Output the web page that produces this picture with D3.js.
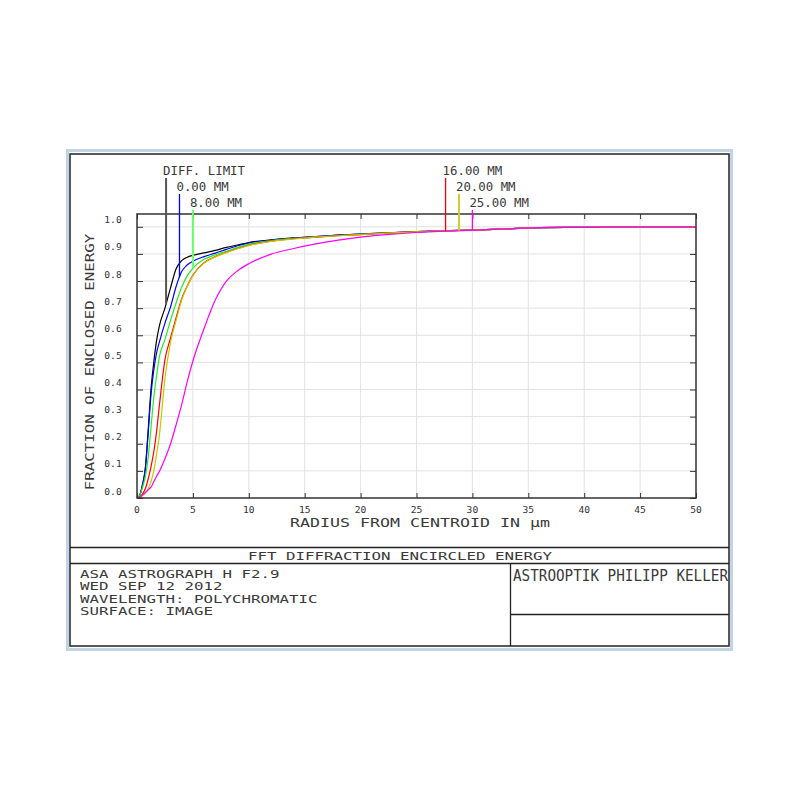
<!DOCTYPE html>
<html><head><meta charset="utf-8">
<script src="https://cdn.jsdelivr.net/npm/d3@7"></script>
<style>body{margin:0;background:#fff}</style>
</head><body><svg id="c" width="800" height="800"></svg>
<script>
// ---- data ----
const radius    = [0,0.25,0.5,0.75,1,1.25,1.5,1.75,2,2.5,3,3.5,4,4.5,5,6,7,8,9,10,12,14,16,18,20,22,25,28,30,33,36,40,45,50];
const diffLimit = [0,0.01,0.05,0.11,0.25,0.40,0.50,0.58,0.635,0.70,0.775,0.845,0.875,0.888,0.895,0.904,0.913,0.924,0.933,0.942,0.952,0.959,0.964,0.969,0.973,0.977,0.982,0.986,0.988,0.992,0.997,0.998,0.999,0.999];
const field0    = [0,0.01,0.05,0.11,0.24,0.38,0.47,0.535,0.575,0.645,0.705,0.78,0.835,0.86,0.873,0.89,0.903,0.917,0.93,0.94,0.951,0.958,0.964,0.969,0.973,0.977,0.982,0.986,0.988,0.992,0.997,0.998,0.999,0.999];
const field8    = [0,0.01,0.04,0.08,0.15,0.26,0.37,0.45,0.52,0.585,0.655,0.72,0.778,0.82,0.848,0.88,0.897,0.91,0.924,0.936,0.949,0.957,0.963,0.968,0.972,0.976,0.981,0.986,0.988,0.992,0.997,0.998,0.999,0.999];
const field16   = [0,0.003,0.015,0.035,0.07,0.115,0.17,0.245,0.34,0.51,0.59,0.665,0.735,0.782,0.822,0.868,0.89,0.906,0.92,0.932,0.947,0.956,0.962,0.967,0.971,0.976,0.981,0.986,0.988,0.992,0.997,0.998,0.999,0.999];
const field20   = [0,0.002,0.008,0.018,0.035,0.06,0.10,0.16,0.23,0.44,0.575,0.655,0.73,0.78,0.82,0.866,0.889,0.905,0.919,0.931,0.946,0.955,0.962,0.967,0.971,0.976,0.981,0.986,0.988,0.992,0.997,0.998,0.999,0.999];
const field25   = [0,0.003,0.012,0.02,0.03,0.04,0.06,0.08,0.098,0.145,0.2,0.27,0.345,0.43,0.505,0.625,0.73,0.8,0.838,0.864,0.899,0.92,0.937,0.951,0.962,0.970,0.979,0.985,0.987,0.992,0.997,0.998,0.999,0.999];

const seriesNames  = ["DIFF. LIMIT","0.00 MM","8.00 MM","16.00 MM","20.00 MM","25.00 MM"];
const seriesValues = [diffLimit, field0, field8, field16, field20, field25];
const seriesColors = ["#000000","#0000ff","#22ee22","#ff0000","#c8c800","#ff00ff"];
const legendColors = ["#555555","#0000ff","#66ff66","#ff0000","#cccc33","#ff00ff"];
const legendRadius = [2.6, 3.8, 5.0, 27.6, 28.8, 30.0];

const xTickValues = [0,5,10,15,20,25,30,35,40,45,50];
const yTickValues = [0,0.1,0.2,0.3,0.4,0.5,0.6,0.7,0.8,0.9,1.0];
const yTickLabels = ["0.0","0.1","0.2","0.3","0.4","0.5","0.6","0.7","0.8","0.9","1.0"];

const chartTitle = "FFT DIFFRACTION ENCIRCLED ENERGY";
const infoLines  = ["ASA ASTROGRAPH H F2.9","WED SEP 12 2012","WAVELENGTH: POLYCHROMATIC","SURFACE: IMAGE"];
const company    = "ASTROOPTIK PHILIPP KELLER";
const xLabel     = "RADIUS FROM CENTROID IN \u03BCm";
const yLabel     = "FRACTION OF ENCLOSED ENERGY";

// ---- layout ----
const svg = d3.select("#c");
const FONT = "DejaVu Sans Mono";
const TEXT = "#3a3a3a";
const L = 137, R = 696, B = 498, T = 214;
const x = d3.scaleLinear().domain([0,50]).range([L,R]);
const y = d3.scaleLinear().domain([0,1]).range([B,226.8]);

function txt(g, s, px, py, size, adv, anchor, fill, rot) {
  const t = g.append("text").attr("x",px).attr("y",py)
    .attr("font-family",FONT).attr("font-size",size)
    .attr("textLength", s.length*adv).attr("lengthAdjust","spacingAndGlyphs")
    .attr("text-anchor",anchor||"start").attr("fill",fill||TEXT).text(s);
  if (rot) t.attr("transform",`rotate(${rot},${px},${py})`);
  return t;
}

// screenshot window border
svg.append("rect").attr("x",67.5).attr("y",150.5).attr("width",664).attr("height",499)
  .attr("fill","none").attr("stroke","#c3d3e6").attr("stroke-width",3);
// outer frame
svg.append("rect").attr("x",70).attr("y",154).attr("width",659).attr("height",492)
  .attr("fill","#fff").attr("stroke","#222").attr("stroke-width",1.5);

// grid
const grid = svg.append("g").attr("stroke","#e2e2e2").attr("stroke-width",1);
grid.selectAll(".gx").data(xTickValues.slice(1,-1)).join("line")
  .attr("x1",d=>x(d)).attr("x2",d=>x(d)).attr("y1",T).attr("y2",B);
grid.selectAll(".gy").data(yTickValues.slice(1)).join("line")
  .attr("x1",L).attr("x2",R).attr("y1",d=>y(d)).attr("y2",d=>y(d));

// axes ticks (inside) via d3 axes
const axG = svg.append("g");
const style = g=>{g.select(".domain").remove(); g.selectAll("line").attr("stroke","#333");};
axG.append("g").attr("transform",`translate(0,${B})`)
  .call(d3.axisBottom(x).tickValues(xTickValues).tickSize(-5).tickFormat("")).call(style);
axG.append("g").attr("transform",`translate(0,${T})`)
  .call(d3.axisTop(x).tickValues(xTickValues).tickSize(-5).tickFormat("")).call(style);
axG.append("g").attr("transform",`translate(${L},0)`)
  .call(d3.axisLeft(y).tickValues(yTickValues).tickSize(-6).tickFormat("")).call(style);
axG.append("g").attr("transform",`translate(${R},0)`)
  .call(d3.axisRight(y).tickValues(yTickValues).tickSize(-6).tickFormat("")).call(style);

// tick labels
const tl = svg.append("g");
xTickValues.forEach(v=>txt(tl, String(v), x(v), 512.5, 9, 5.8, "middle", "#333"));
yTickValues.forEach((v,i)=>txt(tl, yTickLabels[i], 113, y(v)-3.5, 9, 5.8, "middle", "#333"));

// curves
const line = d3.line().x(d=>x(d[0])).y(d=>y(d[1])).curve(d3.curveMonotoneX);
seriesValues.forEach((vals,i)=>{
  svg.append("path").datum(radius.map((r,k)=>[r,vals[k]]))
    .attr("d",line).attr("fill","none").attr("stroke",seriesColors[i]).attr("stroke-width",1.2);
});

// plot box
svg.append("rect").attr("x",L).attr("y",T).attr("width",R-L).attr("height",B-T)
  .attr("fill","none").attr("stroke","#333").attr("stroke-width",1.5);

// legend labels + pointer lines to the curves
const rowBase = [175,191,207];
seriesNames.forEach((name,i)=>{
  const lx = x(legendRadius[i]);
  const interp = d3.scaleLinear().domain(radius).range(seriesValues[i]);
  const row = rowBase[i%3];
  svg.append("line").attr("x1",lx).attr("x2",lx).attr("y1",row+3).attr("y2",y(interp(legendRadius[i])))
    .attr("stroke",legendColors[i]).attr("stroke-width",(i===0||i===2||i===4)?2:1.3);
  txt(svg, name, lx-3, row, 12, 7.45, "start");
});

// axis titles
txt(svg, xLabel, 420, 527, 12, 10, "middle");
txt(svg, yLabel, 94, 362, 12, 9.5, "middle", TEXT, -90);

// bottom info block
const info = svg.append("g").attr("stroke","#222").attr("stroke-width",1.3);
info.append("line").attr("x1",70).attr("x2",729).attr("y1",547.5).attr("y2",547.5);
info.append("line").attr("x1",70).attr("x2",729).attr("y1",563.5).attr("y2",563.5);
info.append("line").attr("x1",510.5).attr("x2",510.5).attr("y1",563.5).attr("y2",646);
info.append("line").attr("x1",510.5).attr("x2",729).attr("y1",614.5).attr("y2",614.5);

txt(svg, chartTitle, 400, 560, 11, 9.5, "middle");
infoLines.forEach((s,i)=>txt(svg, s, 80, 578 + i*12.3, 10.2, 9.5, "start"));
txt(svg, company, 513, 581, 16, 8.6, "start");
</script></body></html>
